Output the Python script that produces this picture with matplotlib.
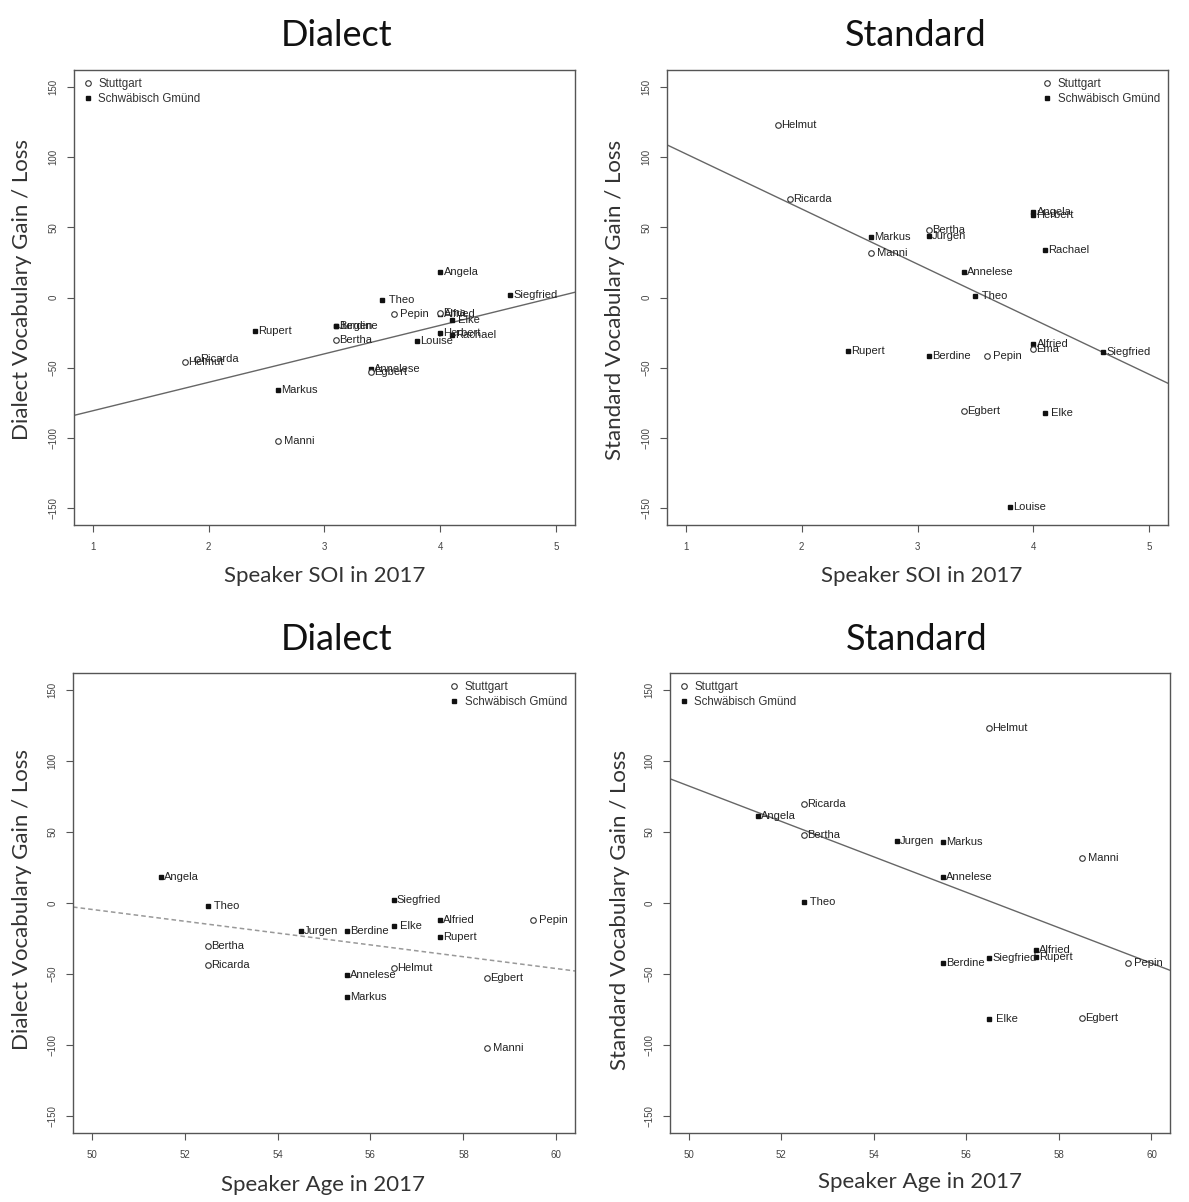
import numpy as np
import matplotlib
matplotlib.use("Agg")
import matplotlib.pyplot as plt
from matplotlib.lines import Line2D

# ---------------- data ----------------
names = ["Angela", "Siegfried", "Theo", "Pepin", "Alfried", "Ema", "Elke", "Berdine",
         "Jurgen", "Bertha", "Rupert", "Herbert", "Rachael", "Louise", "Helmut",
         "Ricarda", "Annelese", "Egbert", "Markus", "Manni"]
labels = ["Angela", "Siegfried", " Theo", " Pepin", "Alfried", "Ema", " Elke", "Berdine",
          "Jurgen", "Bertha", "Rupert", "Herbert", "Rachael", "Louise", "Helmut",
          "Ricarda", "Annelese", "Egbert", "Markus", " Manni"]
city = ["G", "G", "G", "S", "G", "S", "G", "G",
        "G", "S", "G", "G", "G", "G", "S",
        "S", "G", "S", "G", "S"]
soi = [4.0, 4.6, 3.5, 3.6, 4.0, 4.0, 4.1, 3.1,
       3.1, 3.1, 2.4, 4.0, 4.1, 3.8, 1.8,
       1.9, 3.4, 3.4, 2.6, 2.6]
age = [51.5, 56.5, 52.5, 59.5, 57.5, np.nan, 56.5, 55.5,
       54.5, 52.5, 57.5, np.nan, np.nan, np.nan, 56.5,
       52.5, 55.5, 58.5, 55.5, 58.5]
dialect = [18, 2, -2, -12, -12, -11, -16, -20,
           -20, -30, -24, -25, -27, -31, -46,
           -44, -51, -53, -66, -102]
standard = [61, -39, 1, -42, -33, -37, -82, -42,
            44, 48, -38, 59, 34, -149, 123,
            70, 18, -81, 43, 32]

# regression lines: (intercept, slope)
fit_dialect_soi = (-101.0, 20.3)
fit_standard_soi = (141.7, -39.3)
fit_dialect_age = (204.0, -4.17)
fit_standard_age = (707.0, -12.49)

legend_labels = ["Stuttgart", "Schwäbisch Gmünd"]
soi_ticks = [1, 2, 3, 4, 5]
age_ticks = [50, 52, 54, 56, 58, 60]
y_ticks = [-150, -100, -50, 0, 50, 100, 150]

# ---------------- figure ----------------
W, H = 1189, 1202
fig = plt.figure(figsize=(W / 100, H / 100), dpi=100)

def box(x0, y0, x1, y1):
    return [x0 / W, 1 - y1 / H, (x1 - x0) / W, (y1 - y0) / H]

def ftext(x, y, s, **kw):
    fig.text(x / W, 1 - y / H, s, **kw)

GRAY = "#555555"
LBL = "Liberation Sans"
TITLEF = "Lato"

def panel(rect, xs, ys, xlim, xticks, fit, legend_loc, dashed=False):
    ax = fig.add_axes(rect)
    xs = np.asarray(xs, float)
    ys = np.asarray(ys, float)
    for i in range(len(names)):
        if np.isnan(xs[i]):
            continue
        if city[i] == "S":
            ax.plot(xs[i], ys[i], marker="o", ms=4.0, mfc="white", mec="#333333",
                    mew=0.8, ls="none", zorder=3)
        else:
            ax.plot(xs[i], ys[i], marker="s", ms=3.4, mfc="#111111", mec="#111111",
                    ls="none", zorder=3)
        ax.annotate(labels[i], (xs[i], ys[i]), xytext=(2.2, 0), textcoords="offset points",
                    ha="left", va="center", fontsize=8, family=LBL, color="#222222",
                    zorder=4)
    span = xlim[1] - xlim[0]
    lo, hi = xlim[0] - 0.04 * span, xlim[1] + 0.04 * span
    a, b = fit
    lx = np.array([lo, hi])
    if dashed:
        ax.plot(lx, a + b * lx, color="#999999", lw=1.1, ls=(0, (3, 2)), zorder=2)
    else:
        ax.plot(lx, a + b * lx, color="#666666", lw=1.0, zorder=2)
    ax.set_xlim(lo, hi)
    ax.set_ylim(-162, 162)
    ax.set_xticks(xticks)
    ax.set_yticks(y_ticks)
    ax.tick_params(direction="out", length=5, width=0.8, color=GRAY, labelcolor="#444444",
                   labelsize=7)
    ax.tick_params(axis="x", pad=7)
    ax.tick_params(axis="y", pad=6)
    for t in ax.get_yticklabels():
        t.set_rotation(90)
        t.set_va("center")
        t.set_family(LBL)
    for t in ax.get_xticklabels():
        t.set_family(LBL)
    for sp in ax.spines.values():
        sp.set_color(GRAY)
        sp.set_linewidth(1.0)
    handles = [Line2D([], [], marker="o", ms=4.0, mfc="white", mec="#333333", mew=0.8, ls="none"),
               Line2D([], [], marker="s", ms=3.4, mfc="#111111", mec="#111111", ls="none")]
    ax.legend(handles, legend_labels, loc=legend_loc, frameon=False,
              prop={"family": LBL, "size": 8.3}, handletextpad=0.4, handlelength=1.0,
              labelspacing=0.25, borderaxespad=0.4, borderpad=0.3, labelcolor="#333333")
    return ax

panel(box(74, 70, 575, 525), soi, dialect, (1, 5), soi_ticks, fit_dialect_soi, "upper left")
panel(box(667, 70, 1168, 525), soi, standard, (1, 5), soi_ticks, fit_standard_soi, "upper right")
panel(box(73, 673, 575, 1133), age, dialect, (50, 60), age_ticks, fit_dialect_age, "upper right",
      dashed=True)
panel(box(670, 673, 1170, 1133), age, standard, (50, 60), age_ticks, fit_standard_age, "upper left")

tkw = dict(family=TITLEF, fontsize=26, color="#111111", ha="center", va="center")
ftext(337, 35, "Dialect", **tkw)
ftext(916, 35, "Standard", **tkw)
ftext(337, 640, "Dialect", **tkw)
ftext(917, 640, "Standard", **tkw)

akw = dict(family=TITLEF, fontsize=16, color="#333333", ha="center", va="center")
ftext(325, 576, "Speaker SOI in 2017", **akw)
ftext(922, 576, "Speaker SOI in 2017", **akw)
ftext(323, 1185, "Speaker Age in 2017", **akw)
ftext(920, 1182, "Speaker Age in 2017", **akw)
ftext(22, 290, "Dialect Vocabulary Gain / Loss", rotation=90, **akw)
ftext(615, 300, "Standard Vocabulary Gain / Loss", rotation=90, **akw)
ftext(22, 900, "Dialect Vocabulary Gain / Loss", rotation=90, **akw)
ftext(620, 910, "Standard Vocabulary Gain / Loss", rotation=90, **akw)

fig.savefig("out.png", dpi=100)
